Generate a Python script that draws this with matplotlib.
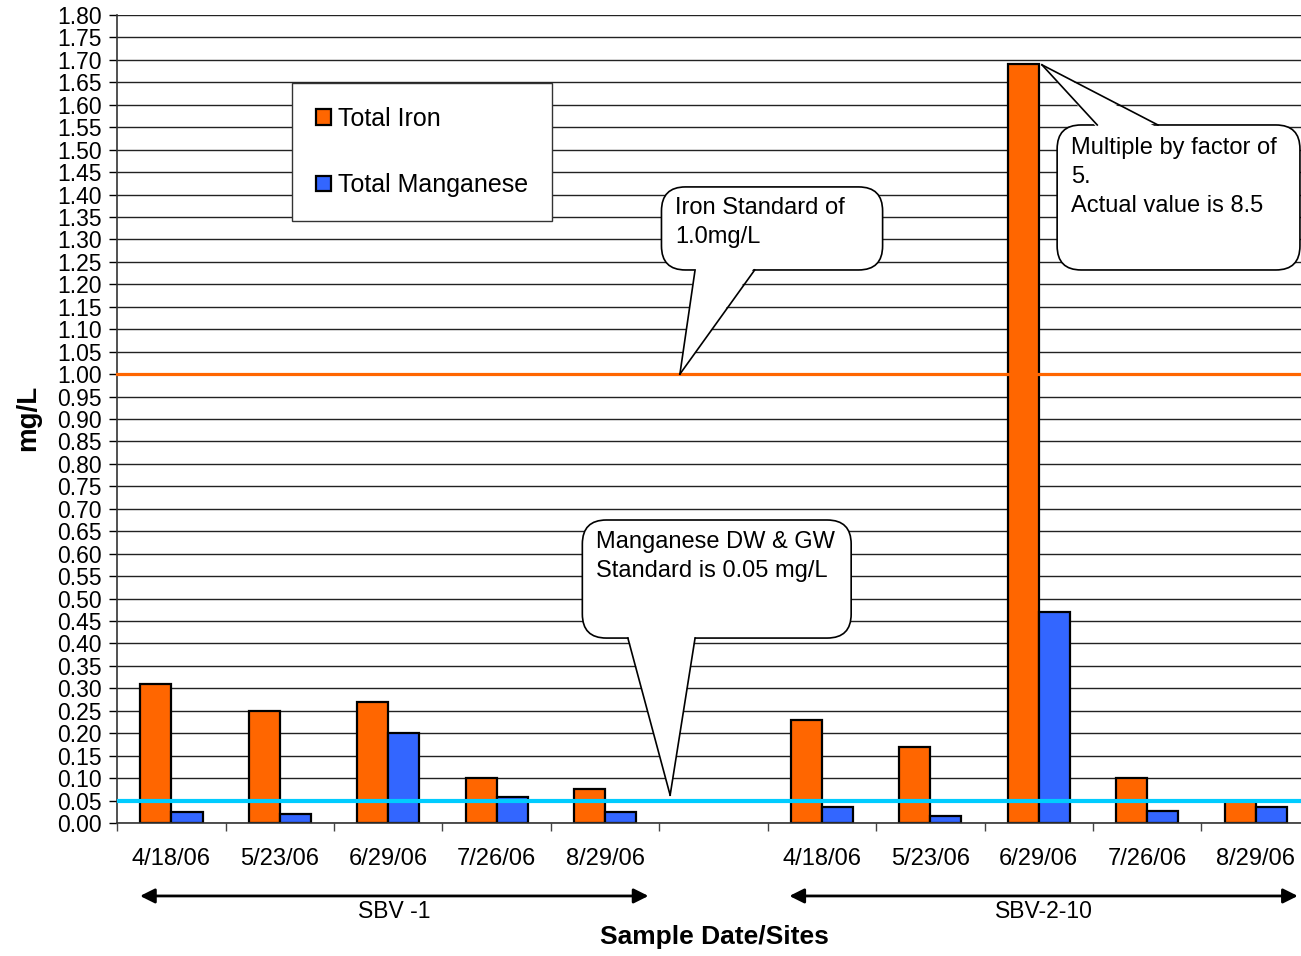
import matplotlib
matplotlib.use('Agg')
import matplotlib.pyplot as plt
import numpy as np
from matplotlib.patches import FancyBboxPatch, Polygon
from matplotlib.transforms import IdentityTransform, blended_transform_factory
from matplotlib.lines import Line2D

plt.rcParams['font.family'] = ['Liberation Sans', 'DejaVu Sans']

# ---------------- data ----------------
dates = ['4/18/06', '5/23/06', '6/29/06', '7/26/06', '8/29/06']
sites = ['SBV -1', 'SBV-2-10']
categories = dates + [''] + dates
total_iron = [0.31, 0.25, 0.27, 0.10, 0.075, np.nan, 0.23, 0.17, 1.69, 0.10, 0.05]
total_manganese = [0.024, 0.02, 0.20, 0.057, 0.025, np.nan, 0.036, 0.015, 0.47, 0.027, 0.036]
iron_standard = 1.00
manganese_standard = 0.05
y_ticks = np.round(np.arange(0, 1.8001, 0.05), 2)

IRON_C = '#FF6600'
MN_C = '#3366FF'

fig = plt.figure(figsize=(13.01, 9.56), dpi=100)
ax = fig.add_axes([0.09016, 0.13912, 0.91653, 0.84519])

n = len(categories)
x = np.arange(n) + 0.5
bw = 0.286
ax.set_xlim(0, n)
ax.set_ylim(0, 1.80)

ax.bar(x - bw / 2, total_iron, bw, color=IRON_C, edgecolor='black', linewidth=1.6,
       zorder=2, label='Total Iron')
ax.bar(x + bw / 2, total_manganese, bw, color=MN_C, edgecolor='black', linewidth=1.6,
       zorder=2, label='Total Manganese')

ax.axhline(iron_standard, color=IRON_C, lw=2.3, zorder=3, clip_on=False)
ax.axhline(manganese_standard, color='#00CCFF', lw=3.0, zorder=3)

# axes styling
ax.set_yticks(y_ticks)
ax.set_yticklabels([f'{v:.2f}' for v in y_ticks], fontsize=16.5)
ax.yaxis.grid(True, color='#222222', lw=1.0, zorder=0)
ax.set_axisbelow(True)
ax.tick_params(axis='y', length=6, width=1, pad=5, direction='out')
ax.set_xticks(np.arange(n + 1))
ax.set_xticklabels([])
ax.tick_params(axis='x', which='major', length=6, width=1, direction='out', color='#444444')
ax.set_xticks(x, minor=True)
ax.set_xticklabels(categories, minor=True, fontsize=17)
ax.tick_params(axis='x', which='minor', length=0, pad=18)
for s in ['top', 'right']:
    ax.spines[s].set_visible(False)
for s in ['left', 'bottom']:
    ax.spines[s].set_color('#333333')
    ax.spines[s].set_linewidth(1.2)

# legend
leg = ax.legend(loc='upper left', bbox_to_anchor=(0.1465, 0.9158), borderaxespad=0,
                fontsize=18, frameon=True, fancybox=False, edgecolor='#333333',
                framealpha=1, handlelength=0.6, handleheight=0.6, handletextpad=0.3,
                borderpad=0.95, labelspacing=1.7)
leg.get_frame().set_linewidth(1.0)
leg.set_zorder(5)

# site arrows and labels
bt = blended_transform_factory(ax.transData, ax.transAxes)
site_spans = [(0.21, 4.90), (6.20, 10.89)]
for (a, b), name in zip(site_spans, sites):
    ax.annotate('', xy=(a, -0.0903), xytext=(b, -0.0903), xycoords=bt, textcoords=bt,
                arrowprops=dict(arrowstyle='<|-|>', color='black', lw=2.0,
                                mutation_scale=22, shrinkA=0, shrinkB=0),
                annotation_clip=False)
    ax.text((a + b) / 2, -0.109, name, transform=bt, ha='center', va='center', fontsize=16.5)
ax.text(5.51, -0.141, 'Sample Date/Sites', transform=bt, ha='center', va='center',
        fontsize=19, fontweight='bold')
ax.text(-0.075, 0.501, 'mg/L', transform=ax.transAxes, rotation=90, ha='center',
        va='center', fontsize=20, fontweight='bold')


# callouts
def callout(box, tip, base, side, text, text_xy):
    T = ax.transData
    x0, y0 = T.transform((box[0], box[1]))
    x1, y1 = T.transform((box[2], box[3]))
    p = FancyBboxPatch((x0, y0), x1 - x0, y1 - y0,
                       boxstyle='round,pad=0,rounding_size=24',
                       transform=IdentityTransform(), fc='white', ec='black', lw=1.2,
                       zorder=6)
    fig.add_artist(p)
    tx, ty = T.transform(tip)
    xa = T.transform((base[0], 0))[0]
    xb = T.transform((base[1], 0))[0]
    if side == 'bottom':
        yb, inset = y0, 3
    else:
        yb, inset = y1, -3
    poly = Polygon([(xa, yb + inset), (xb, yb + inset), (tx, ty)], closed=True,
                   transform=IdentityTransform(), fc='white', ec='none', zorder=7)
    fig.add_artist(poly)
    for xx in (xa, xb):
        fig.add_artist(Line2D([xx, tx], [yb, ty], transform=IdentityTransform(),
                              color='black', lw=1.2, zorder=8))
    fig.text(text_xy[0], text_xy[1], text, transform=T, ha='left', va='center',
             fontsize=17, linespacing=1.4, zorder=9)


callout((5.02, 1.232, 7.06, 1.417), (5.19, iron_standard), (5.33, 5.88), 'bottom',
        'Iron Standard of\n1.0mg/L', (5.145, 1.3375))
callout((4.29, 0.412, 6.77, 0.675), (5.10, 0.062), (4.71, 5.33), 'bottom',
        'Manganese DW & GW\nStandard is 0.05 mg/L', (4.42, 0.5935))
callout((8.67, 1.232, 10.91, 1.555), (8.53, 1.689), (9.04, 9.60), 'top',
        'Multiple by factor of\n5.\nActual value is 8.5', (8.80, 1.439))

fig.savefig('out.png', dpi=100)
